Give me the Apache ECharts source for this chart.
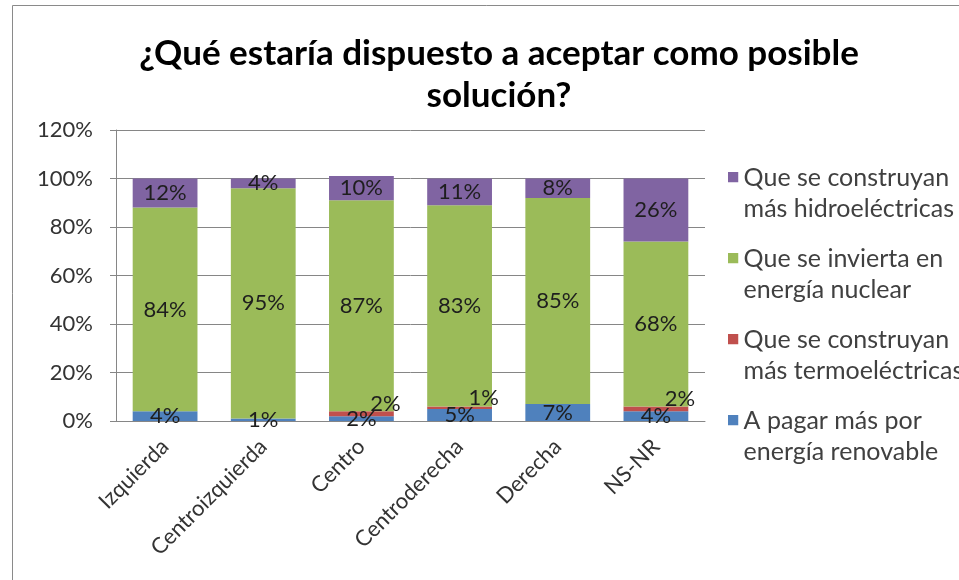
<!DOCTYPE html>
<html>
<head>
<meta charset="utf-8">
<script src="https://cdn.jsdelivr.net/npm/echarts@6/dist/echarts.min.js"></script>
<style>
  html, body { margin: 0; padding: 0; background: #fff; }
  #chart { width: 959px; height: 580px; }
</style>
</head>
<body>
<div id="chart"></div>
<script>
const categories = ['Izquierda', 'Centroizquierda', 'Centro', 'Centroderecha', 'Derecha', 'NS-NR']
const renovable = [4, 1, 2, 5, 7, 4]
const termo = [0, 0, 2, 1, 0, 2]
const nuclear = [84, 95, 87, 83, 85, 68]
const hidro = [12, 4, 10, 11, 8, 26]
const yTicks = [0, 20, 40, 60, 80, 100, 120]

const names = {
  hidro: 'Que se construyan\nmás hidroeléctricas',
  nuclear: 'Que se invierta en\nenergía nuclear',
  termo: 'Que se construyan\nmás termoeléctricas',
  renovable: 'A pagar más por\nenergía renovable'
}

const font = 'Lato, "Open Sans", sans-serif'
const chart = echarts.init(document.getElementById('chart'))

function pct(p) {
  return p.value ? p.value + '%' : ''
}

function bar(name, data, color, labelExtra) {
  return {
    name: name,
    type: 'bar',
    stack: 'total',
    barWidth: '66%',
    data: data,
    itemStyle: { color: color },
    label: Object.assign({
      show: true,
      position: 'inside',
      formatter: pct,
      color: '#1e1e1e',
      fontSize: 22,
      fontFamily: font
    }, labelExtra || {})
  }
}

// square at the top of a tall icon box, so the swatch lines up with the first text line
const swatch = 'path://M0,0h10v10h-10z M0,41h0.01v0.01h-0.01z'

chart.setOption({
  animation: false,
  backgroundColor: '#fff',
  title: {
    text: '¿Qué estaría dispuesto a aceptar como posible\nsolución?',
    left: 494,
    textAlign: 'center',
    top: 28,
    textStyle: { fontFamily: font, fontSize: 35, fontWeight: 'bold', color: '#000', lineHeight: 42 }
  },
  graphic: [{
    type: 'rect',
    shape: { x: 12.5, y: 5.5, width: 960, height: 600 },
    style: { fill: 'none', stroke: '#8a8a8a', lineWidth: 1 },
    silent: true
  }],
  legend: {
    data: [names.hidro, names.nuclear, names.termo, names.renovable],
    orient: 'vertical',
    left: 723,
    top: 157,
    icon: swatch,
    itemWidth: 11,
    itemHeight: 42,
    itemGap: 19,
    selectedMode: false,
    textStyle: {
      fontFamily: font,
      fontSize: 25,
      color: '#404040',
      lineHeight: 31
    }
  },
  grid: { left: 116, right: 254, top: 130, bottom: 159 },
  xAxis: {
    type: 'category',
    data: categories,
    axisLine: { lineStyle: { color: '#868686' } },
    axisTick: { show: false },
    axisLabel: {
      rotate: 45,
      interval: 0,
      margin: 22,
      fontFamily: font,
      fontSize: 22,
      color: '#333'
    }
  },
  yAxis: {
    type: 'value',
    min: 0,
    max: 120,
    interval: 20,
    axisLine: { show: true, lineStyle: { color: '#868686' } },
    axisTick: { show: true, length: 6, lineStyle: { color: '#868686' } },
    splitLine: { lineStyle: { color: '#868686' } },
    axisLabel: {
      formatter: v => yTicks.includes(v) ? v + '%' : '',
      margin: 23,
      fontFamily: font,
      fontSize: 22,
      color: '#333'
    }
  },
  series: [
    bar(names.renovable, renovable, '#4F81BD'),
    bar(names.termo, termo, '#C0504D', { offset: [24, -10] }),
    bar(names.nuclear, nuclear, '#9BBB59'),
    bar(names.hidro, hidro, '#8064A2')
  ]
})
</script>
</body>
</html>
